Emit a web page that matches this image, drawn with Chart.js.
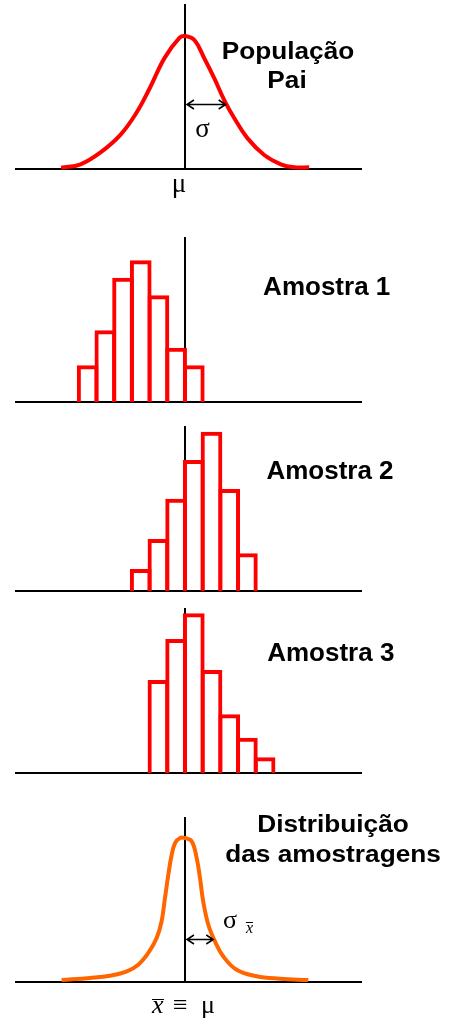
<!DOCTYPE html>
<html>
<head>
<meta charset="utf-8">
<script src="https://cdn.jsdelivr.net/npm/chart.js@4.4.0/dist/chart.umd.min.js"></script>
<style>
  html, body { margin: 0; padding: 0; background: #fff; }
  #page { position: relative; width: 453px; height: 1022px; overflow: hidden; }
  #page canvas { position: absolute; left: 0; }
</style>
</head>
<body>
<div id="page">
  <canvas id="pop" width="453" height="205" style="top:0px"></canvas>
  <canvas id="s1" width="453" height="185" style="top:225px"></canvas>
  <canvas id="s2" width="453" height="185" style="top:414px"></canvas>
  <canvas id="s3" width="453" height="185" style="top:596px"></canvas>
  <canvas id="dist" width="453" height="222" style="top:800px"></canvas>
</div>
<script>
// x in units of one bin width, mu at 0; y in sample counts
const X_MIN = -9.55, X_MAX = 9.95, Y_MAX = 9.37;

// parent population curve
const popX = [-7.0, -5.9, -4.77, -3.65, -2.75, -2.0, -1.15, -0.3, 0, 0.53, 1.09, 1.66, 2.22, 2.79, 3.54, 4.48, 5.42, 6.18, 7.02];
const popY = [0.07, 0.27, 0.95, 1.95, 3.2, 4.6, 6.35, 7.5, 7.6, 7.37, 6.33, 5.18, 3.94, 2.9, 1.75, 0.8, 0.27, 0.1, 0.1];
const popSigma = 2.3;

// samples: bin centres and counts
const bins1 = [-5.5, -4.5, -3.5, -2.5, -1.5, -0.5, 0.5];
const counts1 = [2.1, 4.1, 7.1, 8.1, 6.1, 3.1, 2.1];
const bins2 = [-2.5, -1.5, -0.5, 0.5, 1.5, 2.5, 3.5];
const counts2 = [1.26, 2.97, 5.27, 7.49, 9.1, 5.83, 2.15];
const bins3 = [-1.5, -0.5, 0.5, 1.5, 2.5, 3.5, 4.5];
const counts3 = [5.31, 7.66, 9.13, 5.89, 3.35, 2.02, 0.9];

// sampling distribution of the mean
const meanX = [-6.97, -5.37, -4.24, -3.29, -2.64, -2.07, -1.6, -1.32, -1.13, -0.94, -0.75, -0.56, -0.28, 0, 0.38, 0.66, 0.85, 1.03, 1.32, 1.69, 2.16, 2.92, 4.05, 5.37, 6.97];
const meanY = [0.11, 0.23, 0.36, 0.61, 0.99, 1.66, 2.51, 3.47, 4.8, 6.13, 7.27, 7.94, 8.23, 8.23, 8.04, 7.09, 5.94, 4.61, 3.27, 2.33, 1.47, 0.7, 0.33, 0.19, 0.11];
const meanSigma = 1.6;

const BOLD = '"Liberation Sans", Arial, sans-serif';
const SERIF = '"Liberation Serif", "DejaVu Serif", serif';
const charts = {};

const notesPlugin = {
  id: 'notes',
  afterDraw(chart, args, o) {
    const { ctx, chartArea, scales: { x, y } } = chart;
    const x0 = x.getPixelForValue(0), y0 = y.getPixelForValue(0);
    ctx.save();
    ctx.fillStyle = '#000';
    ctx.strokeStyle = '#000';
    ctx.textBaseline = 'alphabetic';

    (o.titles || []).forEach(t => {
      ctx.save();
      ctx.font = t.font;
      ctx.textAlign = 'center';
      ctx.translate(t.cx, chartArea.top + t.dy);
      ctx.scale(t.sx || 1, 1);
      ctx.fillText(t.text, 0, 0);
      ctx.restore();
    });

    if (o.arrow) {
      const ay = Math.round(y.getPixelForValue(o.arrow.y)) + 0.5;
      const a = x0 + 2, b = x.getPixelForValue(o.arrow.to);
      ctx.lineWidth = 1.5;
      ctx.beginPath();
      ctx.moveTo(a, ay); ctx.lineTo(b, ay);
      ctx.moveTo(a + 7, ay - 4.5); ctx.lineTo(a, ay); ctx.lineTo(a + 7, ay + 4.5);
      ctx.moveTo(b - 7, ay - 4.5); ctx.lineTo(b, ay); ctx.lineTo(b - 7, ay + 4.5);
      ctx.stroke();
    }

    (o.labels || []).forEach(l => {
      ctx.font = l.font;
      ctx.textAlign = l.align || 'left';
      ctx.fillText(l.text, x0 + l.dx, y0 + l.dy);
    });

    (o.bars || []).forEach(l => {
      ctx.lineWidth = 1;
      ctx.beginPath();
      ctx.moveTo(x0 + l.dx1, y0 + l.dy + 0.5);
      ctx.lineTo(x0 + l.dx2, y0 + l.dy + 0.5);
      ctx.stroke();
    });
    ctx.restore();
  }
};

function panel(id, padTop, datasets, notes) {
  const canvas = document.getElementById(id);
  const padBottom = canvas.height - padTop - 164;
  const axis = {
    type: 'linear',
    display: true,
    z: 1,
    offset: false,
    grid: { display: false, offset: false },
    border: { display: true, color: '#000', width: 2 },
  };
  charts[id] = new Chart(canvas, {
    type: 'line',
    data: { datasets },
    options: {
      responsive: false,
      animation: false,
      events: [],
      layout: { padding: { left: 16, right: 92, top: padTop, bottom: padBottom } },
      plugins: { legend: { display: false }, tooltip: { enabled: false }, notes },
      scales: {
        x: Object.assign({}, axis, {
          min: X_MIN, max: X_MAX, position: { y: 0 },
          ticks: { display: false, stepSize: 1, includeBounds: false },
        }),
        y: Object.assign({}, axis, {
          min: 0, max: Y_MAX, position: { x: 0 },
          ticks: { display: false },
        }),
      },
    },
    plugins: [notesPlugin],
  });
}

const curve = (xs, ys, color) => ({
  type: 'line',
  data: xs.map((v, i) => ({ x: v, y: ys[i] })),
  borderColor: color,
  borderWidth: 4,
  pointRadius: 0,
  tension: 0.4,
  fill: false,
  clip: false,
});

const hist = (bins, counts) => ({
  type: 'bar',
  data: bins.map((v, i) => ({ x: v, y: counts[i] })),
  backgroundColor: 'transparent',
  borderColor: '#ff0000',
  borderWidth: 4,
  borderSkipped: 'start',
  barPercentage: 1.226,
  categoryPercentage: 1,
  grouped: false,
});

const amostra = (text, cx, dy) => ({ titles: [{ text, cx, dy, font: 'bold 26px ' + BOLD }] });

panel('pop', 5, [curve(popX, popY, '#ff0000')], {
  titles: [
    { text: 'População', cx: 288, dy: 54.3, font: 'bold 23px ' + BOLD, sx: 1.14 },
    { text: 'Pai', cx: 287, dy: 83.3, font: 'bold 23px ' + BOLD, sx: 1.14 },
  ],
  arrow: { y: 3.7, to: popSigma },
  labels: [
    { text: 'σ', dx: 17.5, dy: -32, font: '27px ' + SERIF, align: 'center' },
    { text: 'μ', dx: -6, dy: 23, font: '27px ' + SERIF, align: 'center' },
  ],
});

panel('s1', 13, [hist(bins1, counts1)], amostra('Amostra 1', 326.7, 57));
panel('s2', 13, [hist(bins2, counts2)], amostra('Amostra 2', 330, 52.3));
panel('s3', 13, [hist(bins3, counts3)], amostra('Amostra 3', 330.8, 52));

panel('dist', 18, [curve(meanX, meanY, '#ff6600')], {
  titles: [
    { text: 'Distribuição', cx: 333, dy: 13.7, font: 'bold 23px ' + BOLD, sx: 1.14 },
    { text: 'das amostragens', cx: 333, dy: 44.3, font: 'bold 23px ' + BOLD, sx: 1.14 },
  ],
  arrow: { y: 2.44, to: meanSigma },
  labels: [
    { text: 'σ', dx: 38, dy: -54, font: '26px ' + SERIF },
    { text: 'x', dx: 61, dy: -49, font: 'italic 16px ' + SERIF },
    { text: 'x', dx: -33, dy: 31, font: 'italic 26px ' + SERIF },
    { text: '≡', dx: -12, dy: 31, font: '26px ' + SERIF },
    { text: 'μ', dx: 16, dy: 31, font: '26px ' + SERIF },
  ],
  bars: [
    { dx1: 61, dx2: 68, dy: -60 },
    { dx1: -33, dx2: -21, dy: 17 },
  ],
});
</script>
</body>
</html>
